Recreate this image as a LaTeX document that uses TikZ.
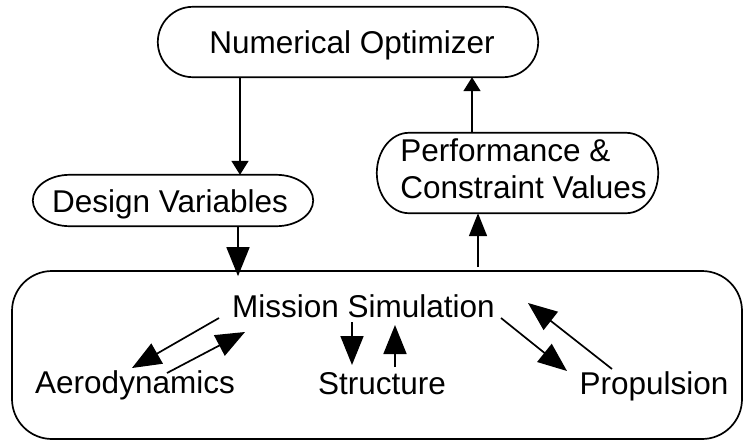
\documentclass[tikz,border=0pt]{standalone}
\usepackage{fontspec}
\setmainfont{Liberation Sans}
\usetikzlibrary{arrows.meta}
\newcommand\ovaloutline[3]{% node name, x radius, y radius
  \draw[box] ([xshift=#2]#1.north west) -- ([xshift=-#2]#1.north east)
    .. controls ([xshift=-0.4477*#2]#1.north east) and ([yshift=0.5523*#3]#1.east) .. (#1.east)
    .. controls ([yshift=-0.5523*#3]#1.east) and ([xshift=-0.4477*#2]#1.south east) .. ([xshift=-#2]#1.south east)
    -- ([xshift=#2]#1.south west)
    .. controls ([xshift=0.4477*#2]#1.south west) and ([yshift=-0.5523*#3]#1.west) .. (#1.west)
    .. controls ([yshift=0.5523*#3]#1.west) and ([xshift=0.4477*#2]#1.north west) .. cycle;}
\begin{document}
\begin{tikzpicture}[x=1pt,y=-1pt,
  every node/.style={font=\fontsize{31.5}{37}\selectfont, inner sep=0pt},
  box/.style={draw, line width=1.7pt, line join=round},
  oneline/.style={text height=23pt, text depth=0pt},
  conn/.style={line width=1.7pt},
  smallhead/.style={conn,-{Triangle[length=14pt,width=17pt]}},
  midhead/.style={conn,-{Triangle[length=23pt,width=18pt]}},
  bighead/.style={conn,-{Triangle[length=29pt,width=23pt]}},
]
\useasboundingbox (0,0) rectangle (743,442);
% boxes
\node[oneline, minimum width=380pt, minimum height=70pt] (opt) at (348,42) {\hspace*{8pt}Numerical Optimizer};
\ovaloutline{opt}{35pt}{35pt}
\node[oneline, minimum width=280pt, minimum height=51pt] (dv) at (173,200.5) {\hspace*{-6pt}Design Variables};
\ovaloutline{dv}{37pt}{25.5pt}
\node[minimum width=281pt, minimum height=80pt] (perf) at (517.5,173)
  {\begin{tabular}{@{\hspace{12pt}}l@{}}Performance \&\\Constraint Values\end{tabular}};
\ovaloutline{perf}{32pt}{40pt}
\node[box, rounded corners=40pt, minimum width=730pt, minimum height=168pt] (sim) at (377,355) {};
% texts inside
\node[anchor=base] (ms) at (363.5,317) {Mission Simulation};
\node[anchor=base] (aero) at (135,393) {Aerodynamics};
\node[anchor=base] (struct) at (382,394) {Structure};
\node[anchor=base] (prop) at (654,394) {Propulsion};
% helper coordinates
\coordinate (x1) at (240,0);
\coordinate (x2) at (472,0);
\coordinate (x3) at (238,0);
\coordinate (p0) at (478,267);
\coordinate (ae1s) at (219,318); \coordinate (ae1e) at (132,368);
\coordinate (ae2s) at (167,373); \coordinate (ae2e) at (245,332);
\coordinate (st1s) at (352,322); \coordinate (st1e) at (352,365);
\coordinate (st2s) at (395,367); \coordinate (st2e) at (395,325);
\coordinate (pr1s) at (501,318); \coordinate (pr1e) at (567,371);
\coordinate (pr2s) at (612,369); \coordinate (pr2e) at (528,303);
% connectors
\draw[smallhead] (x1 |- opt.south) -- (x1 |- dv.north);
\draw[smallhead] (x2 |- perf.north) -- (x2 |- opt.south);
\draw[bighead] (x3 |- dv.south) -- ([yshift=-6pt]x3 |- sim.north);
\draw[midhead] (p0) -- (p0 |- perf.south);
\draw[bighead] (ae1s) -- (ae1e);
\draw[bighead] (ae2s) -- (ae2e);
\draw[bighead] (st1s) -- (st1e);
\draw[bighead] (st2s) -- (st2e);
\draw[bighead] (pr1s) -- (pr1e);
\draw[bighead] (pr2s) -- (pr2e);
\end{tikzpicture}
\end{document}
